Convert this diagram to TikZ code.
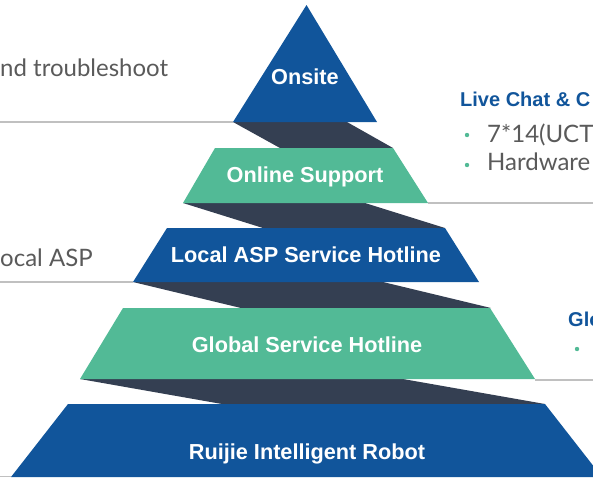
\documentclass[tikz,border=0pt]{standalone}
\usepackage{fontspec}
\setmainfont{Liberation Sans}
\newfontfamily\notefont{Lato}
\usetikzlibrary{calc}
\definecolor{rjblue}{HTML}{11559B}
\definecolor{rjgreen}{HTML}{52BA96}
\definecolor{rjdark}{HTML}{343F52}
\definecolor{rjgrey}{HTML}{5A5A5A}
\definecolor{rjline}{HTML}{C0C0C0}

\begin{document}
\begin{tikzpicture}[x=1pt,y=-1pt,
  tier/.style={text=white,inner sep=0pt,anchor=base,font=\bfseries\fontsize{21.7}{21.7}\selectfont},
  head/.style={text=rjblue,inner sep=0pt,anchor=base west,font=\bfseries\fontsize{20}{20}\selectfont},
  note/.style={text=rjgrey,inner sep=0pt,anchor=base west,font=\notefont\fontsize{24}{24}\selectfont}]
\useasboundingbox (0,0) rectangle (593,477);
% Guide lines
\draw[rjline,line width=1.5pt] (0,122) -- (233,122);
\draw[rjline,line width=1.5pt] (428,203) -- (593,203);
\draw[rjline,line width=1.5pt] (0,282) -- (133,282);
\draw[rjline,line width=1.5pt] (535,380) -- (593,380);
\draw[rjline,line width=1.5pt] (0,476.5) -- (11,476.5);
% Shadow bands
\fill[rjdark] (233,122) -- (347,122) -- (393,148) -- (280,148) -- cycle;
\fill[rjdark] (183,203) -- (365,203) -- (445,228) -- (263,228) -- cycle;
\fill[rjdark] (133,282) -- (383,282) -- (491,308) -- (241,308) -- cycle;
\fill[rjdark] (80,379) -- (403,379) -- (545,404) -- (222,404) -- cycle;
% Pyramid tiers
\fill[rjblue] (306.5,5) -- (377,122) -- (233,122) -- cycle;
\fill[rjgreen] (215,148) -- (393,148) -- (428,203) -- (183,203) -- cycle;
\fill[rjblue] (167,228) -- (445,228) -- (479,282) -- (133,282) -- cycle;
\fill[rjgreen] (123,308) -- (490,308) -- (535,379) -- (80,379) -- cycle;
\fill[rjblue] (68,404) -- (545,404) -- (602,477) -- (11,477) -- cycle;
\node[tier] (onsite) at (305,84) {Onsite};
\node[tier] (online) at (305,182) {Online Support};
\node[tier] (local) at (306,262) {Local ASP Service Hotline};
\node[tier] (global) at (307,352) {Global Service Hotline};
\node[tier] (robot) at (307,459) {Ruijie Intelligent Robot};
% Side notes
\node[note] (trouble) at (0,76) {nd troubleshoot};
\node[note] (asp) at (0,266) {ocal ASP};
\node[head] (chat) at (460,106) {Live Chat \& C};
\node[note] (hours) at (487,142) {7*14(UCT};
\node[note] (hw) at (487,170) {Hardware};
\node[head] (glo) at (568,326) {Glo};
\fill[rjgreen] (467,135) circle (2.2);
\fill[rjgreen] (467,165) circle (2.2);
\fill[rjgreen] (577,349) circle (2.2);
\end{tikzpicture}
\end{document}
